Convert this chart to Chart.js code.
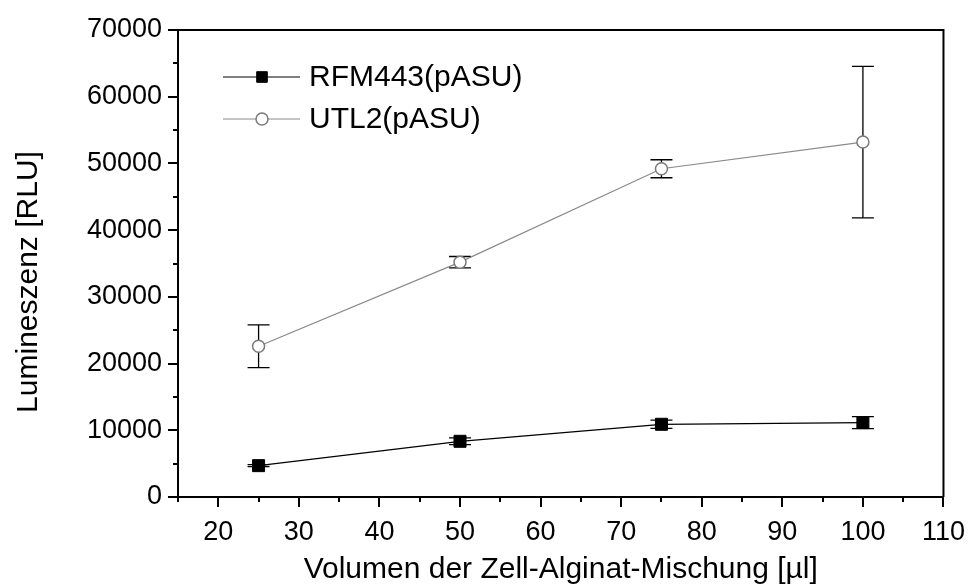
<!DOCTYPE html>
<html>
<head>
<meta charset="utf-8">
<script src="https://cdn.jsdelivr.net/npm/chart.js@4/dist/chart.umd.min.js"></script>
<style>
  html, body { margin: 0; padding: 0; background: #fff; }
  #wrap { width: 974px; height: 587px; }
</style>
</head>
<body>
<div id="wrap"><canvas id="lumChart" width="974" height="587"></canvas></div>
<script>
// Volumen (µl) und Lumineszenz-Mittelwerte mit Standardabweichung
const volumes = [25, 50, 75, 100];
const rfmMeans = [4700, 8350, 10900, 11150];
const rfmErrors = [150, 500, 620, 900];
const utlMeans = [22600, 35200, 49200, 53200];
const utlErrors = [3200, 850, 1350, 11350];

const xTicks = [20, 30, 40, 50, 60, 70, 80, 90, 100, 110];
const xMinorTicks = [15, 25, 35, 45, 55, 65, 75, 85, 95, 105];
const yTicks = [0, 10000, 20000, 30000, 40000, 50000, 60000, 70000];
const yMinorTicks = [5000, 15000, 25000, 35000, 45000, 55000, 65000];

const xTitle = 'Volumen der Zell-Alginat-Mischung [µl]';
const yTitle = 'Lumineszenz [RLU]';

const FONT = '"Liberation Sans", Arial, Helvetica, sans-serif';

const toPoints = (xs, ys, errs) => xs.map((x, i) => ({ x, y: ys[i], err: errs[i] }));

// Fehlerbalken unter den Markern zeichnen
const errorBars = {
  id: 'errorBars',
  beforeDatasetsDraw(chart) {
    const { ctx, scales: { x, y } } = chart;
    ctx.save();
    ctx.strokeStyle = '#000';
    ctx.lineWidth = 1.3;
    chart.data.datasets.forEach(ds => {
      ds.data.forEach(p => {
        const px = x.getPixelForValue(p.x);
        const top = y.getPixelForValue(p.y + p.err);
        const bot = y.getPixelForValue(p.y - p.err);
        ctx.beginPath();
        ctx.moveTo(px, top); ctx.lineTo(px, bot);
        ctx.moveTo(px - 11, top); ctx.lineTo(px + 11, top);
        ctx.moveTo(px - 11, bot); ctx.lineTo(px + 11, bot);
        ctx.stroke();
      });
    });
    ctx.restore();
  }
};

// Rahmen oben/rechts, kurze Zwischenstriche und Achsentitel
const frameAndMinor = {
  id: 'frameAndMinor',
  afterDraw(chart) {
    const { ctx, chartArea: a, scales: { x, y } } = chart;
    ctx.save();
    ctx.strokeStyle = '#000';
    ctx.lineWidth = 2;
    ctx.beginPath();
    ctx.moveTo(a.left, a.top); ctx.lineTo(a.right, a.top); ctx.lineTo(a.right, a.bottom);
    ctx.stroke();
    ctx.beginPath();
    xMinorTicks.forEach(v => {
      const px = Math.round(x.getPixelForValue(v));
      ctx.moveTo(px, a.bottom); ctx.lineTo(px, a.bottom + 5);
    });
    yMinorTicks.forEach(v => {
      const py = Math.round(y.getPixelForValue(v));
      ctx.moveTo(a.left, py); ctx.lineTo(a.left - 5, py);
    });
    ctx.stroke();

    ctx.fillStyle = '#000';
    ctx.font = '30px ' + FONT;
    ctx.textAlign = 'center';
    ctx.textBaseline = 'alphabetic';
    ctx.fillText(xTitle, (a.left + a.right) / 2, 578);
    ctx.translate(37, 282);
    ctx.rotate(-Math.PI / 2);
    ctx.fillText(yTitle, 0, 0);
    ctx.restore();
  }
};

// Legende innerhalb des Diagramms: Linie - Symbol - Linie, dann Text
const insideLegend = {
  id: 'insideLegend',
  afterDraw(chart) {
    const { ctx } = chart;
    ctx.save();
    ctx.font = '30px ' + FONT;
    ctx.textBaseline = 'middle';
    chart.data.datasets.forEach((ds, i) => {
      const yy = 77 + i * 42;
      ctx.strokeStyle = ds.borderColor;
      ctx.lineWidth = 1;
      ctx.beginPath();
      ctx.moveTo(223, yy); ctx.lineTo(300, yy);
      ctx.stroke();
      ctx.fillStyle = ds.pointBackgroundColor;
      ctx.strokeStyle = ds.pointBorderColor;
      ctx.lineWidth = ds.pointBorderWidth;
      Chart.helpers.drawPoint(ctx, {
        pointStyle: ds.pointStyle,
        radius: ds.pointStyle === 'rect' ? 7.5 : ds.pointRadius,
        borderWidth: ds.pointBorderWidth,
        rotation: 0
      }, 262, yy);
      ctx.fillStyle = '#000';
      ctx.fillText(ds.label, 309, yy + 1);
    });
    ctx.restore();
  }
};

new Chart(document.getElementById('lumChart'), {
  type: 'line',
  data: {
    datasets: [
      {
        label: 'RFM443(pASU)',
        data: toPoints(volumes, rfmMeans, rfmErrors),
        borderColor: '#000',
        borderWidth: 1.2,
        pointStyle: 'rect',
        pointRadius: 8.5,
        pointBackgroundColor: '#000',
        pointBorderColor: '#000',
        pointBorderWidth: 1,
        tension: 0
      },
      {
        label: 'UTL2(pASU)',
        data: toPoints(volumes, utlMeans, utlErrors),
        borderColor: '#8a8a8a',
        borderWidth: 1.2,
        pointStyle: 'circle',
        pointRadius: 6,
        pointBackgroundColor: '#fff',
        pointBorderColor: '#7a7a7a',
        pointBorderWidth: 1.5,
        tension: 0
      }
    ]
  },
  options: {
    responsive: false,
    devicePixelRatio: 1,
    animation: false,
    layout: { padding: { left: 0, top: 30, right: 26, bottom: 0 } },
    plugins: {
      legend: { display: false },
      tooltip: { enabled: false }
    },
    scales: {
      x: {
        type: 'linear',
        min: 15,
        max: 110,
        afterBuildTicks: s => { s.ticks = xTicks.map(v => ({ value: v })); },
        afterFit: s => { s.height = 90; },
        border: { display: true, color: '#000', width: 2 },
        grid: { drawOnChartArea: false, color: '#000', lineWidth: 2, tickLength: 10 },
        ticks: {
          color: '#000',
          padding: 9,
          maxRotation: 0,
          font: { family: FONT, size: 27 }
        }
      },
      y: {
        min: 0,
        max: 70000,
        afterBuildTicks: s => { s.ticks = yTicks.map(v => ({ value: v })); },
        afterFit: s => { s.width = 178; },
        border: { display: true, color: '#000', width: 2 },
        grid: { drawOnChartArea: false, color: '#000', lineWidth: 2, tickLength: 10 },
        ticks: {
          color: '#000',
          padding: 6,
          font: { family: FONT, size: 27 },
          callback: v => String(v)
        }
      }
    }
  },
  plugins: [errorBars, frameAndMinor, insideLegend]
});
</script>
</body>
</html>
